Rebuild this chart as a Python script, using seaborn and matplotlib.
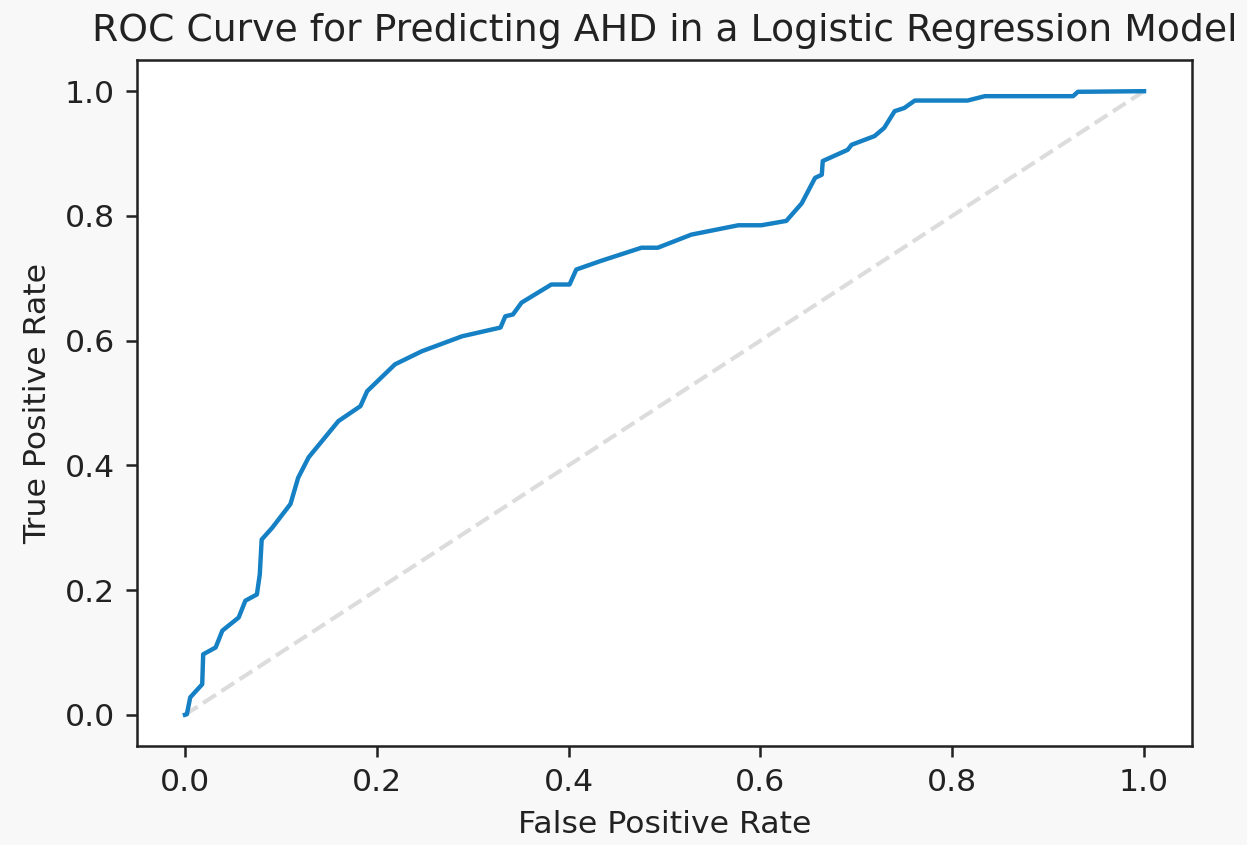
import numpy as np
import pandas as pd
import matplotlib
matplotlib.use("Agg")
import matplotlib.pyplot as plt
import seaborn as sns

fpr = [0.0, 0.002, 0.0055, 0.018, 0.019, 0.032, 0.039, 0.056, 0.063, 0.075, 0.078, 0.080,
       0.091, 0.110, 0.118, 0.129, 0.160, 0.183, 0.190, 0.219, 0.247, 0.289, 0.329, 0.334,
       0.342, 0.351, 0.382, 0.401, 0.408, 0.434, 0.476, 0.493, 0.528, 0.577, 0.601, 0.627,
       0.643, 0.657, 0.664, 0.665, 0.691, 0.695, 0.719, 0.729, 0.740, 0.750, 0.761, 0.816,
       0.834, 0.926, 0.931, 1.0]
tpr = [0.0, 0.001, 0.028, 0.049, 0.097, 0.108, 0.135, 0.156, 0.183, 0.193, 0.225, 0.281,
       0.300, 0.338, 0.380, 0.413, 0.471, 0.495, 0.519, 0.562, 0.583, 0.607, 0.621, 0.639,
       0.642, 0.661, 0.690, 0.690, 0.714, 0.728, 0.749, 0.749, 0.770, 0.785, 0.785, 0.792,
       0.820, 0.861, 0.866, 0.888, 0.906, 0.914, 0.928, 0.941, 0.968, 0.973, 0.985, 0.985,
       0.992, 0.992, 0.999, 1.0]
diag = [0.0, 1.0]

title = "ROC Curve for Predicting AHD in a Logistic Regression Model"
xlabel = "False Positive Rate"
ylabel = "True Positive Rate"

plt.rcdefaults()
dpi = 226.8
fig = plt.figure(figsize=(1247 / dpi, 845 / dpi), dpi=dpi, facecolor="#f8f8f8")
ax = fig.add_axes([137 / 1247, 1 - 746 / 845, (1192 - 137) / 1247, (746 - 60) / 845])
ax.set_facecolor("white")

sns.lineplot(x=diag, y=diag, ax=ax, color="#dcdcdc", linewidth=1.3, linestyle="--")
sns.lineplot(x=fpr, y=tpr, ax=ax, color="#1580c4", linewidth=1.4, sort=False,
             estimator=None)

ax.set_title(title, fontsize=12, color="#222222")
ax.set_xlabel(xlabel, fontsize=10, color="#222222")
ax.set_ylabel(ylabel, fontsize=10, color="#222222")
ax.tick_params(colors="#222222", labelcolor="#222222")
for s in ax.spines.values():
    s.set_color("#222222")
ax.set_xticks([0.0, 0.2, 0.4, 0.6, 0.8, 1.0])
ax.set_yticks([0.0, 0.2, 0.4, 0.6, 0.8, 1.0])
ax.set_xlim(-0.05, 1.05)
ax.set_ylim(-0.05, 1.05)

fig.savefig("out.png", dpi=dpi, facecolor=fig.get_facecolor())
